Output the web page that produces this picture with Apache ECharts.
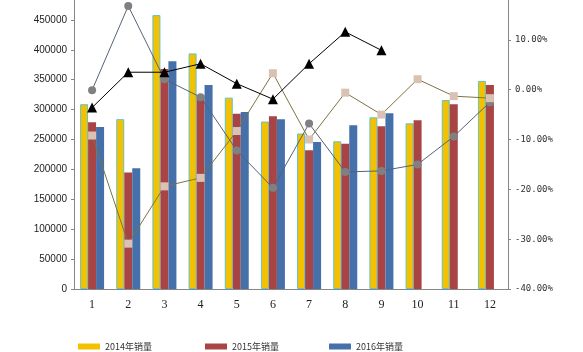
<!DOCTYPE html>
<html lang="zh">
<head>
<meta charset="UTF-8">
<title>销量</title>
<script src="https://cdn.jsdelivr.net/npm/echarts@6/dist/echarts.min.js"></script>
<style>
  html, body { margin: 0; padding: 0; background: #fff; }
</style>
</head>
<body>
<div id="main" style="width: 583px;height: 352px"></div>
<script>
    let months = ['1', '2', '3', '4', '5', '6', '7', '8', '9', '10', '11', '12']
    let sales2014 = [309000, 284000, 458000, 394000, 320000, 280000, 260000, 247000, 287000, 277000, 316000, 348000]
    let sales2015 = [279000, 195000, 368000, 324000, 293000, 289000, 232000, 243000, 272000, 282000, 309000, 341000]
    let sales2016 = [271000, 202000, 381000, 341000, 296000, 284000, 246000, 274000, 294000, null, null, null]
    // 右轴 百分比
    let growth2015 = [-9.2, -30.9, -19.4, -17.7, -8.3, 3.3, -10.0, -0.6, -5.0, 2.1, -1.3, -1.7]
    let growthOther = [-0.1, 16.8, 2.1, -1.5, -12.2, -19.7, -6.8, -16.5, -16.3, -15.0, -9.4, -2.5]
    let growth2016 = [-3.6, 3.5, 3.5, 5.2, 1.2, -1.9, 5.2, 11.6, 7.9, null, null, null]

    let axisColor = '#868686'
    let mycharts = echarts.init(document.getElementById("main"))

    function legendAt(name, left) {
        return {
            data: [name],
            left: left,
            top: 342,
            padding: 0,
            itemWidth: 22,
            itemHeight: 6,
            icon: 'rect',
            itemStyle: {borderWidth: 0},
            textStyle: {fontFamily: 'Noto Sans CJK SC', fontSize: 9, color: '#333'}
        }
    }

    mycharts.setOption({
        animation: false,
        grid: {left: 74, right: 75, top: -10, bottom: 63, outerBoundsMode: 'none', containLabel: false},
        legend: [
            legendAt('2014年销量', 78),
            legendAt('2015年销量', 205),
            legendAt('2016年销量', 329)
        ],
        xAxis: {
            type: 'category',
            data: months,
            axisLine: {lineStyle: {color: axisColor}},
            axisTick: {length: 4, lineStyle: {color: axisColor}},
            axisLabel: {fontFamily: 'Liberation Serif', fontSize: 12, color: '#222', margin: 10}
        },
        yAxis: [{
            type: 'value',
            min: 0,
            max: 500000,
            interval: 50000,
            splitLine: {show: false},
            axisLine: {show: true, lineStyle: {color: axisColor}},
            axisTick: {show: true, length: 3, lineStyle: {color: axisColor}},
            axisLabel: {
                fontFamily: 'Liberation Sans', fontSize: 10, color: '#222', margin: 7,
                formatter: function (v) {
                    return String(v)
                }
            }
        }, {
            type: 'value',
            min: -40,
            max: 20,
            interval: 10,
            splitLine: {show: false},
            axisLine: {show: true, lineStyle: {color: axisColor}},
            axisTick: {show: true, length: 3, lineStyle: {color: axisColor}},
            axisLabel: {
                fontFamily: 'DejaVu Sans Mono', fontSize: 9, color: '#333', margin: 7,
                formatter: function (v) {
                    return v.toFixed(2) + '%'
                }
            }
        }],
        series: [{
            name: '2014年销量',
            type: 'bar',
            data: sales2014,
            barWidth: 8,
            barGap: '0%',
            itemStyle: {color: '#f4c100', borderColor: '#63c2c8', borderWidth: 1}
        }, {
            name: '2015年销量',
            type: 'bar',
            data: sales2015,
            barWidth: 8,
            barGap: '0%',
            itemStyle: {color: '#a84443'}
        }, {
            name: '2016年销量',
            type: 'bar',
            data: sales2016,
            barWidth: 8,
            barGap: '0%',
            itemStyle: {color: '#4570aa'}
        }, {
            name: '行业同比',
            type: 'line',
            yAxisIndex: 1,
            data: growthOther,
            symbol: 'circle',
            symbolSize: 8,
            itemStyle: {color: '#808080'},
            lineStyle: {color: '#55617a', width: 1}
        }, {
            name: '2015年同比',
            type: 'line',
            yAxisIndex: 1,
            data: growth2015,
            symbol: 'rect',
            symbolSize: 8,
            itemStyle: {color: '#d9c2b4'},
            lineStyle: {color: '#7d7340', width: 1}
        }, {
            name: '2016年同比',
            type: 'line',
            yAxisIndex: 1,
            data: growth2016,
            symbol: 'triangle',
            symbolSize: 10,
            itemStyle: {color: '#000'},
            lineStyle: {color: '#000', width: 1}
        }]
    })
</script>
</body>
</html>
